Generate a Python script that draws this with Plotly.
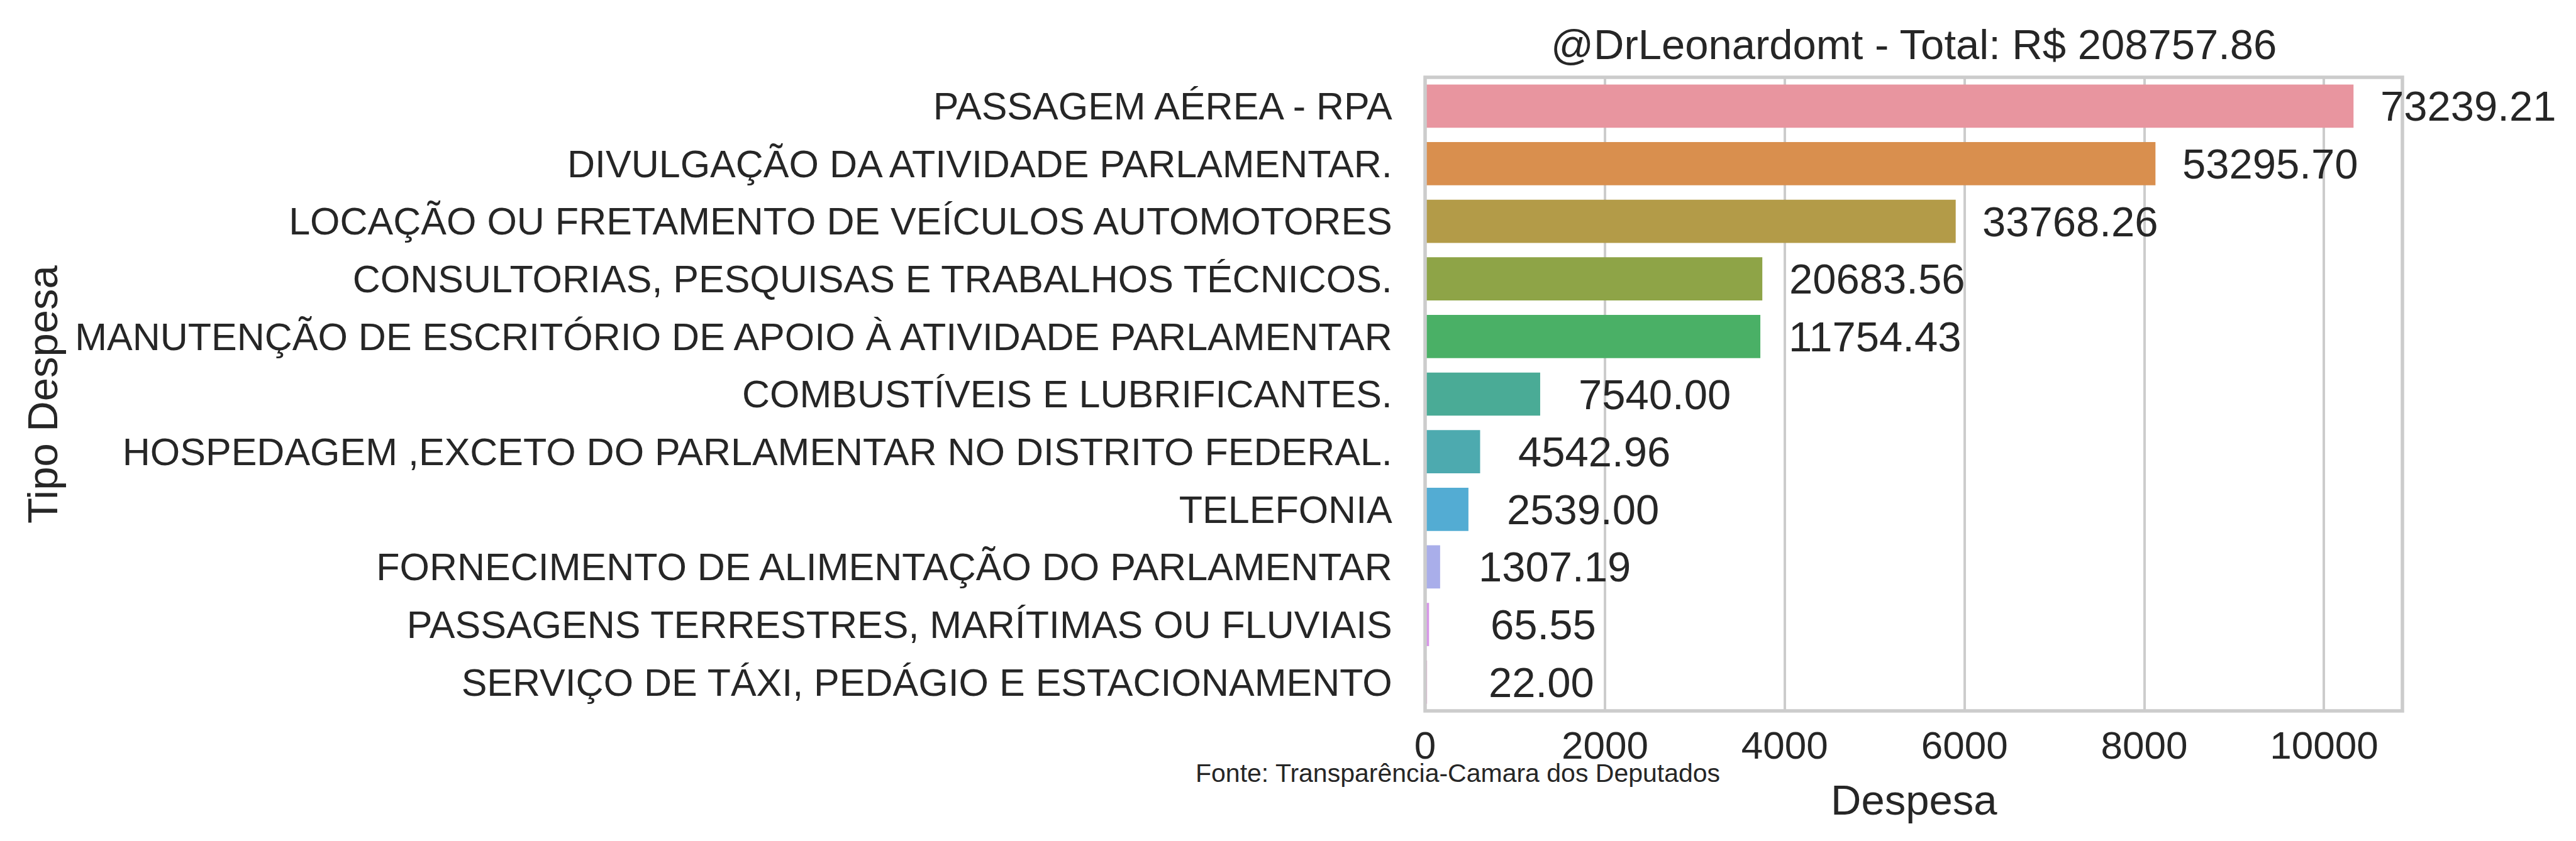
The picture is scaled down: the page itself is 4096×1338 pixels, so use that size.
import plotly.graph_objects as go

categories = [
    "PASSAGEM AÉREA - RPA",
    "DIVULGAÇÃO DA ATIVIDADE PARLAMENTAR.",
    "LOCAÇÃO OU FRETAMENTO DE VEÍCULOS AUTOMOTORES",
    "CONSULTORIAS, PESQUISAS E TRABALHOS TÉCNICOS.",
    "MANUTENÇÃO DE ESCRITÓRIO DE APOIO À ATIVIDADE PARLAMENTAR",
    "COMBUSTÍVEIS E LUBRIFICANTES.",
    "HOSPEDAGEM ,EXCETO DO PARLAMENTAR NO DISTRITO FEDERAL.",
    "TELEFONIA",
    "FORNECIMENTO DE ALIMENTAÇÃO DO PARLAMENTAR",
    "PASSAGENS TERRESTRES, MARÍTIMAS OU FLUVIAIS",
    "SERVIÇO DE TÁXI, PEDÁGIO E ESTACIONAMENTO",
]
bar_values = [10327, 8124, 5902, 3751, 3729, 1280, 612, 482, 167, 44, 22]
totals = [73239.21, 53295.70, 33768.26, 20683.56, 11754.43, 7540.00,
          4542.96, 2539.00, 1307.19, 65.55, 22.00]
colors = ["#e8959f", "#d98f4e", "#b39b48", "#8ea447", "#4ab066", "#4aab96",
          "#4daaaf", "#53acd3", "#a9aeea", "#d796e8", "#e793c8"]
x_ticks = [0, 2000, 4000, 6000, 8000, 10000]
x_max = 10871

FONT = "Liberation Sans, Arial, sans-serif"
TXT = "#262626"
GRID = "#cccccc"

fig = go.Figure()
fig.add_trace(go.Bar(
    x=bar_values, y=categories, orientation="h",
    marker=dict(color=colors, line=dict(width=0)),
    showlegend=False, hoverinfo="skip",
))

for cat, v, t in zip(categories, bar_values, totals):
    fig.add_annotation(x=v, y=cat, xref="x", yref="y", text=f"{t:.2f}",
                       showarrow=False, xanchor="center", yanchor="middle",
                       xshift=182, font=dict(family=FONT, size=67, color=TXT))

total = sum(totals)
fig.add_annotation(x=0.5, y=1.0516, xref="paper", yref="paper",
                   text=f"@DrLeonardomt - Total: R$ {total:.2f}",
                   showarrow=False, xanchor="center", yanchor="middle",
                   font=dict(family=FONT, size=67, color=TXT))
fig.add_annotation(x=0.5, y=-0.1400, xref="paper", yref="paper", text="Despesa",
                   showarrow=False, xanchor="center", yanchor="middle",
                   font=dict(family=FONT, size=67, color=TXT))
fig.add_annotation(x=-1.4150, y=0.5, xref="paper", yref="paper", text="Tipo Despesa",
                   showarrow=False, xanchor="center", yanchor="middle", textangle=-90,
                   font=dict(family=FONT, size=67, color=TXT))
fig.add_annotation(x=0.0335, y=-0.098, xref="paper", yref="paper",
                   text="Fonte: Transparência-Camara dos Deputados",
                   showarrow=False, xanchor="center", yanchor="middle",
                   font=dict(family=FONT, size=41, color=TXT))

fig.add_shape(type="rect", xref="paper", yref="paper", x0=0, y0=0, x1=1, y1=1,
              line=dict(color=GRID, width=5.5), layer="above")

fig.update_layout(
    width=4096, height=1338,
    margin=dict(l=2258, r=284, t=115, b=215),
    paper_bgcolor="white", plot_bgcolor="white",
    bargap=0.25,
    xaxis=dict(range=[0, x_max], tickvals=x_ticks, ticktext=[str(v) for v in x_ticks],
               showgrid=True, gridcolor=GRID, gridwidth=4, zeroline=False,
               showline=False, ticks="outside", ticklen=1, tickcolor="rgba(0,0,0,0)",
               tickfont=dict(family=FONT, size=62, color=TXT)),
    yaxis=dict(categoryorder="array", categoryarray=categories,
               range=[len(categories) - 0.5, -0.5], showgrid=False, zeroline=False,
               showline=False, ticks="outside", ticklen=39, tickcolor="rgba(0,0,0,0)",
               tickfont=dict(family=FONT, size=61, color=TXT)),
)

fig.write_html("out.html")
